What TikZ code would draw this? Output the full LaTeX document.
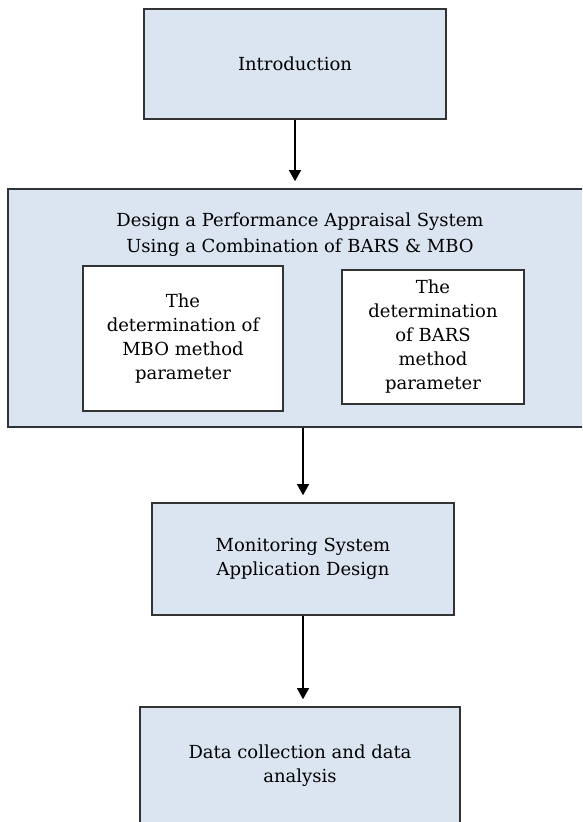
\documentclass[tikz,border=0pt]{standalone}
\usepackage{fontspec}
\setmainfont{DejaVu Serif}
\usetikzlibrary{arrows.meta}
\definecolor{boxblue}{RGB}{219,229,241}
\tikzset{bluebox/.style={draw=black!80,line width=0.8pt,fill=boxblue,align=center,inner sep=0pt,font=\fontsize{9}{12}\selectfont}}
\tikzset{whitebox/.style={bluebox,fill=white}}
\tikzset{flow/.style={-{Triangle[length=5.5pt,width=6pt]},line width=0.6pt,shorten >=3.5pt}}

\begin{document}
\begin{tikzpicture}[x=0.5pt,y=-0.5pt]
  \useasboundingbox (0,0) rectangle (582,822);
  \clip (0,0) rectangle (582,822);
  \node [bluebox,minimum width=151pt,minimum height=55pt] (intro) at (295,64) {Introduction};
  \node [bluebox,minimum width=296pt,minimum height=119pt] (design) at (304,308) {};
  \node [font=\fontsize{9}{13}\selectfont,align=center] (title) at (300,235) {Design a Performance Appraisal System\\Using a Combination of BARS \& MBO};
  \node [whitebox,minimum width=100pt,minimum height=72.5pt] (mbo) at (183,338.5) {The\\determination of\\MBO method\\parameter};
  \node [whitebox,minimum width=91pt,minimum height=67pt] (bars) at (433,337) {The\\determination\\of BARS\\method\\parameter};
  \node [bluebox,minimum width=151pt,minimum height=56pt] (monitor) at (303,559) {Monitoring System\\Application Design};
  \node [bluebox,minimum width=160pt,minimum height=59pt] (data) at (300,766) {Data collection and data\\analysis};
  \draw [flow] (intro.south) -- (intro.south |- design.north);
  \draw [flow] (design.south -| monitor.north) -- (monitor.north);
  \draw [flow] (monitor.south) -- (monitor.south |- data.north);
\end{tikzpicture}
\end{document}
